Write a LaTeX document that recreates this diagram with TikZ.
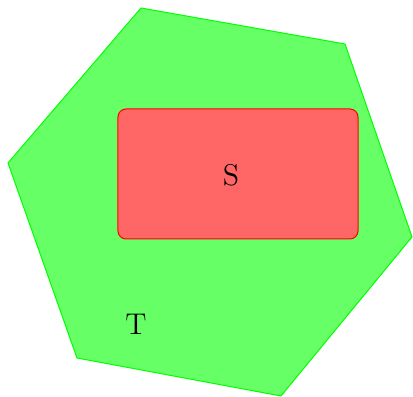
\documentclass[tikz,border=0pt]{standalone}
\usepackage{xcolor}
\usepackage{tikz}
\usetikzlibrary{positioning,calc}
\definecolor{cGreen}{HTML}{00FF00}
\definecolor{lGreen}{HTML}{66FF66}
\definecolor{cRed}{HTML}{FF0000}
\definecolor{lRed}{HTML}{FF6666}

\begin{document}
\begin{tikzpicture}[x=0.4pt, y=-0.4pt,
    setT/.style={draw=cGreen, fill=lGreen},
    setS/.style={draw=cRed, fill=lRed, rounded corners=3.2pt,
                 minimum width=96pt, minimum height=52pt, inner sep=0pt},
    setlabel/.style={font=\large}]
  \useasboundingbox (0,0) rectangle (413,397);
  % outer set
  \draw[setT] (141,8) -- (345,44) -- (412,237) -- (281,396)
              -- (77,358) -- (8,163) -- cycle;
  % inner set
  \node[setS] (sbox) at (238,174) {};
  \node[setlabel] (slabel) at (231,175) {S};
  \node[setlabel] (tlabel) at (136,324) {T};
\end{tikzpicture}
\end{document}
